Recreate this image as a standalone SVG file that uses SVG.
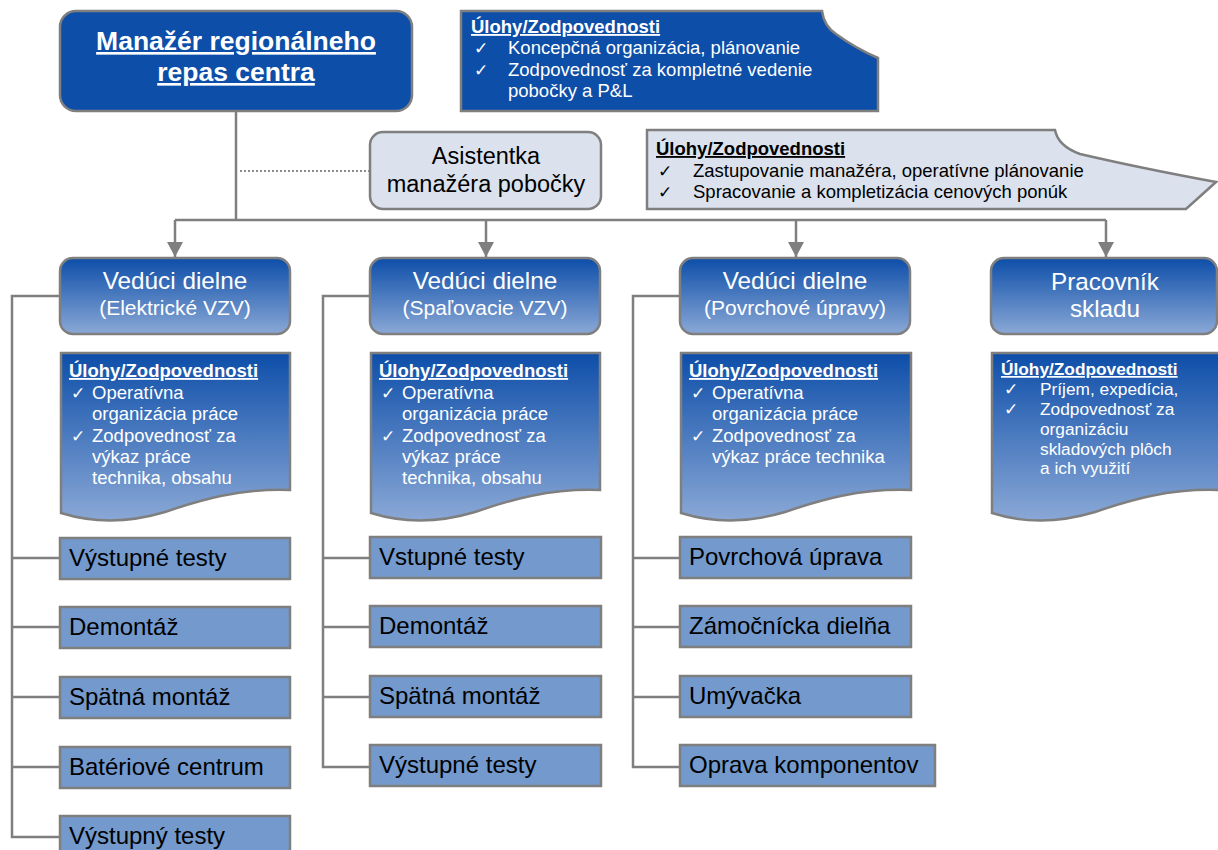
<svg xmlns="http://www.w3.org/2000/svg" width="1218" height="850" viewBox="0 0 1218 850">
<defs>
<linearGradient id="gb" x1="0" y1="0" x2="0" y2="1">
<stop offset="0" stop-color="#0d4ea9"/>
<stop offset="1" stop-color="#8aa8d6"/>
</linearGradient>
<marker id="arr" viewBox="0 0 15 16" refX="15" refY="8" markerWidth="15" markerHeight="16" markerUnits="userSpaceOnUse" orient="auto">
<path d="M0,0 L15,8 L0,16 Z" fill="#7f7f7f"/>
</marker>
<style>
text{font-family:"Liberation Sans",Arial,sans-serif}
.ln{fill:none;stroke:#7f7f7f;stroke-width:2.5}
.bx{stroke:#7f7f7f;stroke-width:2.5}
.dark{fill:#0c4ea8}
.w{fill:#fff}
.k{fill:#000}
.hd{font-weight:bold;text-decoration:underline}
.sub{fill:#7399cd;stroke:#7f7f7f;stroke-width:2.5}
.st{font-size:24px;fill:#000}
.t18{font-size:18.5px}
.t17{font-size:17.3px}
.lv{font-size:24.3px}
.lv2{font-size:21px}
</style>
</defs>

<g id="connectors">
<path class="ln" d="M236,111 V220"/>
<path class="ln" d="M175,220 H1106"/>
<path class="ln" d="M175,220 V257" marker-end="url(#arr)"/>
<path class="ln" d="M486,220 V257" marker-end="url(#arr)"/>
<path class="ln" d="M796,220 V257" marker-end="url(#arr)"/>
<path class="ln" d="M1106,220 V257" marker-end="url(#arr)"/>
<path d="M240,171 H369" fill="none" stroke="#8c8c8c" stroke-width="2" stroke-dasharray="2,2"/>
<path class="ln" d="M60,296 H12 V837 H60 M12,558 H60 M12,627 H60 M12,697 H60 M12,767 H60"/>
<path class="ln" d="M370,296 H323 V767 H370 M323,558 H370 M323,627 H370 M323,697 H370"/>
<path class="ln" d="M680,296 H633 V767 H680 M633,558 H680 M633,627 H680 M633,697 H680"/>
</g>

<g id="manager">
<rect class="bx dark" x="60" y="11" width="352" height="100" rx="16"/>
<text class="w hd" x="236" y="50" font-size="26.5" text-anchor="middle">Manažér regionálneho</text>
<text class="w hd" x="236" y="81" font-size="26.5" text-anchor="middle">repas centra</text>
</g>

<g id="callout-manager">
<path class="bx dark" d="M461,11 H822 Q824,26 836,34 Q855,48 878,58 V111 H461 Z"/>
<text class="w hd t18" x="471" y="33">Úlohy/Zodpovednosti</text>
<text class="w t17" x="474" y="54">✓</text><text class="w t18" x="508" y="54">Koncepčná organizácia, plánovanie</text>
<text class="w t17" x="474" y="76">✓</text><text class="w t18" x="508" y="76">Zodpovednosť za kompletné vedenie</text>
<text class="w t18" x="508" y="97">pobočky a P&amp;L</text>
</g>

<g id="assistant">
<rect class="bx" fill="#dbe2ed" x="370" y="132" width="231" height="77" rx="13"/>
<text class="k" x="486" y="164" font-size="23.5" text-anchor="middle">Asistentka</text>
<text class="k" x="486" y="192" font-size="23.5" text-anchor="middle">manažéra pobočky</text>
</g>

<g id="callout-assistant">
<path class="bx" fill="#dbe2ed" d="M647,130 H1055 Q1058,146 1080,154 Q1140,168 1216,182 L1186,209 H647 Z"/>
<text class="k hd t18" x="656" y="155">Úlohy/Zodpovednosti</text>
<text class="k t17" x="658" y="177">✓</text><text class="k t18" x="693" y="177">Zastupovanie manažéra, operatívne plánovanie</text>
<text class="k t17" x="658" y="198">✓</text><text class="k t18" x="693" y="198">Spracovanie a kompletizácia cenových ponúk</text>
</g>

<g id="lead-electric">
<rect class="bx" fill="url(#gb)" x="60" y="258" width="230" height="76" rx="13"/>
<text class="w lv" x="175" y="289" text-anchor="middle">Vedúci dielne</text>
<text class="w lv2" x="175" y="315" text-anchor="middle">(Elektrické VZV)</text>
</g>
<g id="tasks-electric">
<path class="bx" fill="url(#gb)" d="M61,353 H290 V490 C240,488 200,500 165,512 C125,524 90,522 61,513 Z"/>
<text class="w hd t18" x="69" y="377">Úlohy/Zodpovednosti</text>
<text class="w t17" x="71" y="399">✓</text><text class="w t18" x="92" y="399">Operatívna</text>
<text class="w t18" x="92" y="420">organizácia práce</text>
<text class="w t17" x="71" y="442">✓</text><text class="w t18" x="92" y="442">Zodpovednosť za</text>
<text class="w t18" x="92" y="463">výkaz práce</text>
<text class="w t18" x="92" y="484">technika, obsahu</text>
</g>

<g id="lead-combustion">
<rect class="bx" fill="url(#gb)" x="370" y="258" width="230" height="76" rx="13"/>
<text class="w lv" x="485" y="289" text-anchor="middle">Vedúci dielne</text>
<text class="w lv2" x="485" y="315" text-anchor="middle">(Spaľovacie VZV)</text>
</g>
<g id="tasks-combustion">
<path class="bx" fill="url(#gb)" d="M371,353 H600 V490 C550,488 510,500 475,512 C435,524 400,522 371,513 Z"/>
<text class="w hd t18" x="379" y="377">Úlohy/Zodpovednosti</text>
<text class="w t17" x="381" y="399">✓</text><text class="w t18" x="402" y="399">Operatívna</text>
<text class="w t18" x="402" y="420">organizácia práce</text>
<text class="w t17" x="381" y="442">✓</text><text class="w t18" x="402" y="442">Zodpovednosť za</text>
<text class="w t18" x="402" y="463">výkaz práce</text>
<text class="w t18" x="402" y="484">technika, obsahu</text>
</g>

<g id="lead-surface">
<rect class="bx" fill="url(#gb)" x="680" y="258" width="230" height="76" rx="13"/>
<text class="w lv" x="795" y="289" text-anchor="middle">Vedúci dielne</text>
<text class="w lv2" x="795" y="315" text-anchor="middle">(Povrchové úpravy)</text>
</g>
<g id="tasks-surface">
<path class="bx" fill="url(#gb)" d="M681,353 H911 V490 C860,488 820,500 785,512 C745,524 710,522 681,513 Z"/>
<text class="w hd t18" x="689" y="377">Úlohy/Zodpovednosti</text>
<text class="w t17" x="691" y="399">✓</text><text class="w t18" x="712" y="399">Operatívna</text>
<text class="w t18" x="712" y="420">organizácia práce</text>
<text class="w t17" x="691" y="442">✓</text><text class="w t18" x="712" y="442">Zodpovednosť za</text>
<text class="w t18" x="712" y="463">výkaz práce technika</text>
</g>

<g id="warehouse">
<rect class="bx" fill="url(#gb)" x="991" y="258" width="226" height="76" rx="13"/>
<text class="w lv" x="1105" y="290" text-anchor="middle">Pracovník</text>
<text class="w lv" x="1105" y="317" text-anchor="middle">skladu</text>
</g>
<g id="tasks-warehouse">
<path class="bx" fill="url(#gb)" d="M992,353 H1220 V490 C1170,488 1130,500 1095,512 C1055,524 1020,522 992,513 Z"/>
<text class="w hd t17" x="1001" y="375">Úlohy/Zodpovednosti</text>
<text class="w t17" x="1004" y="395">✓</text><text class="w t17" x="1040" y="395">Príjem, expedícia,</text>
<text class="w t17" x="1004" y="415">✓</text><text class="w t17" x="1040" y="415">Zodpovednosť za</text>
<text class="w t17" x="1040" y="435">organizáciu</text>
<text class="w t17" x="1040" y="455">skladových plôch</text>
<text class="w t17" x="1040" y="474">a ich využití</text>
</g>

<g id="e1"><rect class="sub" x="60" y="538" width="230" height="41"/><text class="st" x="69" y="566">Výstupné testy</text></g>
<g id="e2"><rect class="sub" x="60" y="607" width="230" height="41"/><text class="st" x="69" y="635">Demontáž</text></g>
<g id="e3"><rect class="sub" x="60" y="677" width="230" height="41"/><text class="st" x="69" y="705">Spätná montáž</text></g>
<g id="e4"><rect class="sub" x="60" y="747" width="230" height="41"/><text class="st" x="69" y="775">Batériové centrum</text></g>
<g id="e5"><rect class="sub" x="60" y="816" width="230" height="41"/><text class="st" x="69" y="844">Výstupný testy</text></g>

<g id="c1"><rect class="sub" x="370" y="537" width="231" height="41"/><text class="st" x="379" y="565">Vstupné testy</text></g>
<g id="c2"><rect class="sub" x="370" y="606" width="231" height="41"/><text class="st" x="379" y="634">Demontáž</text></g>
<g id="c3"><rect class="sub" x="370" y="676" width="231" height="41"/><text class="st" x="379" y="704">Spätná montáž</text></g>
<g id="c4"><rect class="sub" x="370" y="745" width="231" height="41"/><text class="st" x="379" y="773">Výstupné testy</text></g>

<g id="s1"><rect class="sub" x="680" y="537" width="231" height="41"/><text class="st" x="689" y="565">Povrchová úprava</text></g>
<g id="s2"><rect class="sub" x="680" y="606" width="231" height="41"/><text class="st" x="689" y="634">Zámočnícka dielňa</text></g>
<g id="s3"><rect class="sub" x="680" y="676" width="231" height="41"/><text class="st" x="689" y="704">Umývačka</text></g>
<g id="s4"><rect class="sub" x="680" y="745" width="255" height="41"/><text class="st" x="689" y="773">Oprava komponentov</text></g>
</svg>
